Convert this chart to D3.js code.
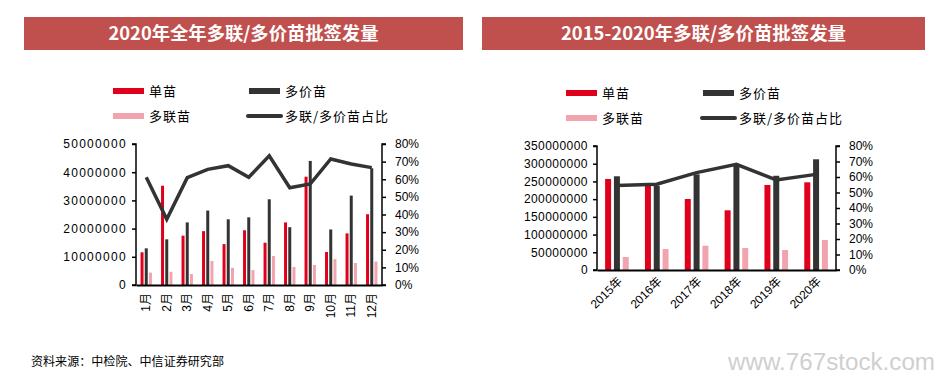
<!DOCTYPE html>
<html>
<head>
<meta charset="utf-8">
<script src="https://cdn.jsdelivr.net/npm/d3@7"></script>
<style>
  html, body { margin: 0; padding: 0; background: #fff; }
  svg { display: block; font-family: "Liberation Sans", Arial, "Noto Sans CJK SC", sans-serif; }
</style>
</head>
<body>
<svg id="chart" width="949" height="385"></svg>
<script>
// ---------- Data ----------
const months = ["1月","2月","3月","4月","5月","6月","7月","8月","9月","10月","11月","12月"];
const monthSingle = [11600000, 35200000, 17500000, 19100000, 14500000, 19400000, 15000000, 22200000, 38400000, 11700000, 18300000, 25100000];
const monthMultiValent = [13000000, 16200000, 22200000, 26400000, 23300000, 24000000, 30400000, 20500000, 44000000, 19700000, 31700000, 41400000];
const monthCombined = [4400000, 4700000, 3900000, 8500000, 6100000, 5300000, 10300000, 6400000, 7100000, 9200000, 7800000, 8300000];
const monthRatio = [0.611, 0.373, 0.609, 0.656, 0.677, 0.611, 0.733, 0.552, 0.573, 0.715, 0.687, 0.666];

const years = ["2015年","2016年","2017年","2018年","2019年","2020年"];
const yearSingle = [256900000, 240000000, 200400000, 168500000, 240000000, 247500000];
const yearMultiValent = [264500000, 238000000, 270000000, 298000000, 266000000, 312500000];
const yearCombined = [36700000, 59300000, 68600000, 62000000, 56500000, 84700000];
const yearRatio = [0.545, 0.553, 0.628, 0.682, 0.581, 0.617];

const leftTicks = [0, 10000000, 20000000, 30000000, 40000000, 50000000];
const rightTicksYear = [0, 50000000, 100000000, 150000000, 200000000, 250000000, 300000000, 350000000];
const pctTicks = [0, 0.1, 0.2, 0.3, 0.4, 0.5, 0.6, 0.7, 0.8];

const seriesNames = ["单苗", "多价苗", "多联苗"];
const lineName = "多联/多价苗占比";
const titles = ["2020年全年多联/多价苗批签发量", "2015-2020年多联/多价苗批签发量"];
const sourceText = "资料来源：中检院、中信证券研究部";
const watermark = "www.767stock.com";

// ---------- Styles ----------
const RED = "#e0001b", DARK = "#333333", PINK = "#f2a4ae", BANNER = "#c0504d";

const svg = d3.select("#chart");
svg.append("rect").attr("width", 949).attr("height", 385).attr("fill", "#fff");

function banner(x0, x1, text, tl) {
  svg.append("rect").attr("x", x0).attr("y", 17).attr("width", x1 - x0).attr("height", 33).attr("fill", BANNER);
  svg.append("text").attr("x", (x0 + x1) / 2).attr("y", 40).attr("text-anchor", "middle")
    .attr("fill", "#fff").attr("font-weight", "bold").attr("font-size", 18)
    .attr("font-family", "'Noto Sans CJK SC', 'Liberation Sans', sans-serif")
    .attr("textLength", tl).attr("lengthAdjust", "spacingAndGlyphs")
    .text(text);
}
banner(24, 463, titles[0], 270);
banner(482, 925, titles[1], 285);

function legend(x0, x1, yRow1, yRow2) {
  const g = svg.append("g").attr("font-size", 13).attr("fill", "#000")
    .attr("font-family", "'Noto Sans CJK SC', sans-serif").attr("letter-spacing", 1);
  const items = [
    {name: seriesNames[0], color: RED, x: x0, y: yRow1, type: "bar"},
    {name: seriesNames[1], color: DARK, x: x1, y: yRow1, type: "bar"},
    {name: seriesNames[2], color: PINK, x: x0, y: yRow2, type: "bar"},
    {name: lineName, color: DARK, x: x1, y: yRow2, type: "line"}
  ];
  items.forEach(it => {
    if (it.type === "bar") {
      g.append("rect").attr("x", it.x).attr("y", it.y - 3).attr("width", 31).attr("height", 6).attr("fill", it.color);
    } else {
      g.append("line").attr("x1", it.x - 1).attr("x2", it.x + 32).attr("y1", it.y).attr("y2", it.y)
        .attr("stroke", it.color).attr("stroke-width", 4).attr("stroke-linecap", "round");
    }
    g.append("text").attr("x", it.x + 36).attr("y", it.y + 4.5).text(it.name);
  });
}
legend(113, 249, 91, 116);
legend(566, 703, 93, 118);

function drawChart(cfg) {
  const {x0, x1, yTop, yBot, cats, single, multi, comb, ratio, yMax, yTicks, labelSpacing, barPi, barPo, lineW, xLabelMode} = cfg;
  const x = d3.scaleBand().domain(cats).range([x0, x1]).padding(0);
  const y = d3.scaleLinear().domain([0, yMax]).range([yBot, yTop]);
  const y2 = d3.scaleLinear().domain([0, 0.8]).range([yBot, yTop]);
  const sub = d3.scaleBand().domain(seriesNames).range([0, x.bandwidth()]).paddingInner(barPi).paddingOuter(barPo);
  const colors = [RED, DARK, PINK];
  const vals = [single, multi, comb];

  const g = svg.append("g");
  // bars
  seriesNames.forEach((s, si) => {
    g.selectAll(null).data(cats).join("rect")
      .attr("x", d => x(d) + sub(s))
      .attr("width", sub.bandwidth())
      .attr("y", (d, i) => y(vals[si][i]))
      .attr("height", (d, i) => yBot - y(vals[si][i]))
      .attr("fill", colors[si]);
  });
  // line
  const line = d3.line().x((d, i) => x(cats[i]) + x.bandwidth() / 2).y(d => y2(d));
  g.append("path").datum(ratio).attr("d", line).attr("fill", "none")
    .attr("stroke", DARK).attr("stroke-width", lineW).attr("stroke-linejoin", "miter");

  // left axis
  const la = g.append("g").attr("transform", `translate(${x0},0)`)
    .call(d3.axisLeft(y).tickValues(yTicks).tickSize(4).tickPadding(5).tickFormat(d3.format("d")));
  la.select(".domain").attr("stroke", "#000").attr("stroke-width", 1.5).attr("d", `M-4,${yTop}H0V${yBot}H-4`);
  la.selectAll(".tick line").attr("stroke", "#000").attr("stroke-width", 1.5);
  la.selectAll("text").attr("font-size", 12).attr("fill", "#000").attr("letter-spacing", labelSpacing)
    .attr("font-family", "'Liberation Sans', Arial, sans-serif");

  // right axis
  const ra = g.append("g").attr("transform", `translate(${x1},0)`)
    .call(d3.axisRight(y2).tickValues(pctTicks).tickSize(4).tickPadding(9).tickFormat(d3.format(".0%")));
  ra.select(".domain").attr("stroke", "#000").attr("stroke-width", 1.5).attr("d", `M4,${yTop}H0V${yBot}H4`);
  ra.selectAll(".tick line").attr("stroke", "#000").attr("stroke-width", 1.5);
  ra.selectAll("text").attr("font-size", 12).attr("fill", "#000")
    .attr("font-family", "'Liberation Sans', Arial, sans-serif");

  // bottom axis
  const ba = g.append("g").attr("transform", `translate(0,${yBot})`)
    .call(d3.axisBottom(x).tickSize(0).tickPadding(0));
  ba.select(".domain").attr("stroke", "#000").attr("stroke-width", 2);
  ba.selectAll("text").attr("font-size", 12).attr("fill", "#000")
    .attr("font-family", "'Liberation Sans', 'Noto Sans CJK SC', sans-serif");
  if (xLabelMode === "vertical") {
    ba.selectAll("text").attr("text-anchor", "end").attr("dy", 0)
      .attr("transform", "translate(4,8) rotate(-90)");
  } else {
    ba.selectAll(".tick").append("line").attr("y1", 7).attr("y2", 9).attr("x1", -4).attr("x2", -4).attr("stroke", "#ccc");
    ba.selectAll("text").attr("text-anchor", "end").attr("dy", 0)
      .attr("transform", "translate(6,12) rotate(-45)");
  }
}

drawChart({x0: 136, x1: 382, yTop: 144, yBot: 285, cats: months, single: monthSingle, multi: monthMultiValent,
  comb: monthCombined, ratio: monthRatio, yMax: 50000000, yTicks: leftTicks, labelSpacing: 1.3,
  barPi: 0.29, barPo: 1.08, lineW: 3.5, xLabelMode: "vertical"});

drawChart({x0: 597, x1: 836, yTop: 146, yBot: 270, cats: years, single: yearSingle, multi: yearMultiValent,
  comb: yearCombined, ratio: yearRatio, yMax: 350000000, yTicks: rightTicksYear, labelSpacing: 0.45,
  barPi: 0.32, barPo: 0.92, lineW: 3.5, xLabelMode: "diag"});

svg.append("text").attr("x", 31).attr("y", 366).attr("font-size", 12).attr("fill", "#000")
  .attr("font-family", "'Noto Sans CJK SC', sans-serif")
  .attr("textLength", 193).attr("lengthAdjust", "spacingAndGlyphs").text(sourceText);
svg.append("text").attr("x", 728).attr("y", 370).attr("font-size", 23).attr("fill", "#cfcfcf")
  .attr("font-family", "'Liberation Sans', sans-serif")
  .attr("textLength", 207).attr("lengthAdjust", "spacingAndGlyphs").text(watermark);
</script>
</body>
</html>
